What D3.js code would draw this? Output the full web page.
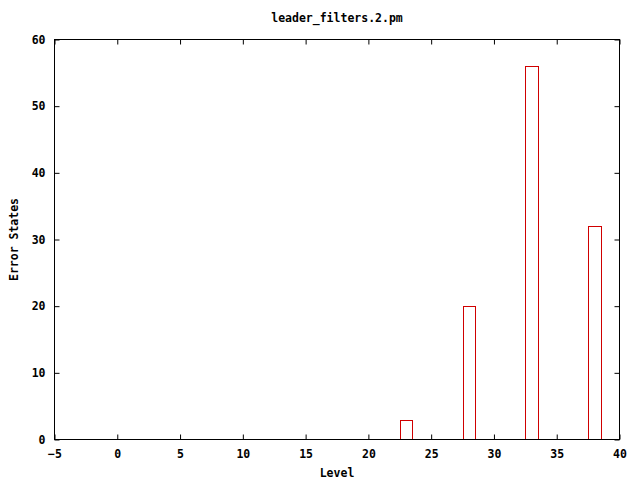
<!DOCTYPE html>
<html><head><meta charset="utf-8">
<script src="https://cdn.jsdelivr.net/npm/d3@7"></script>
<style>
body{margin:0;background:#fff;}
text{font-family:"DejaVu Sans Mono","Liberation Mono",monospace;font-weight:bold;font-size:11.5px;fill:#000;}
</style></head>
<body><svg id="c" width="640" height="480"></svg>
<script>
const title = "leader_filters.2.pm";
const xLabel = "Level";
const yLabel = "Error States";
const levels = [23, 28, 33, 38];
const errorStates = [3, 20, 56, 32];
const xTicks = [-5, 0, 5, 10, 15, 20, 25, 30, 35, 40];
const yTicks = [0, 10, 20, 30, 40, 50, 60];
const xDomain = [-5, 40];
const yDomain = [0, 60];
const barWidth = 1;

(function(){
const svg = d3.select("#c");
const L = 54.5, R = 619.5, T = 39.5, B = 439.5;
const x = d3.scaleLinear().domain(xDomain).range([L, R]);
const y = d3.scaleLinear().domain(yDomain).range([B, T]);
const tl = 5;

svg.append("rect").attr("width",640).attr("height",480).attr("fill","#fff");

// bars
svg.append("g").selectAll("rect").data(levels).join("rect")
  .attr("x", (d)=>Math.round(x(d - barWidth/2))+0.5)
  .attr("width", (d)=>Math.round(x(d + barWidth/2)) - Math.round(x(d - barWidth/2)))
  .attr("y", (d,i)=>Math.round(y(errorStates[i]))+0.5)
  .attr("height", (d,i)=>B - (Math.round(y(errorStates[i]))+0.5))
  .attr("fill","none").attr("stroke","#d00000").attr("stroke-width",1);

// axes with inward ticks
const gB = svg.append("g").attr("transform",`translate(0,${B})`)
  .call(d3.axisBottom(x).tickValues(xTicks).tickSize(-tl).tickPadding(10).tickFormat(d3.format("d")));
const gT = svg.append("g").attr("transform",`translate(0,${T})`)
  .call(d3.axisTop(x).tickValues(xTicks).tickSize(-tl).tickFormat(""));
const gL = svg.append("g").attr("transform",`translate(${L},0)`)
  .call(d3.axisLeft(y).tickValues(yTicks).tickSize(-tl).tickPadding(9).tickFormat(d3.format("d")));
const gR = svg.append("g").attr("transform",`translate(${R},0)`)
  .call(d3.axisRight(y).tickValues(yTicks).tickSize(-tl).tickFormat(""));
[gB, gT, gL, gR].forEach(g=>{
  g.select(".domain").remove();
  g.selectAll("line").attr("stroke","#000");
  g.selectAll("text").attr("font-family",null).attr("font-size",null).attr("fill","#000");
});
gB.selectAll("text").attr("dy","0.71em");
svg.append("rect").attr("x",L).attr("y",T).attr("width",R-L).attr("height",B-T)
  .attr("fill","none").attr("stroke","#000").attr("stroke-width",1);

svg.append("text").attr("x",(L+R)/2).attr("y",22).attr("text-anchor","middle").text(title);
svg.append("text").attr("x",(L+R)/2).attr("y",477).attr("text-anchor","middle").text(xLabel);
svg.append("text").attr("transform",`translate(18,${(T+B)/2}) rotate(-90)`).attr("text-anchor","middle").text(yLabel);
})();
</script></body></html>
